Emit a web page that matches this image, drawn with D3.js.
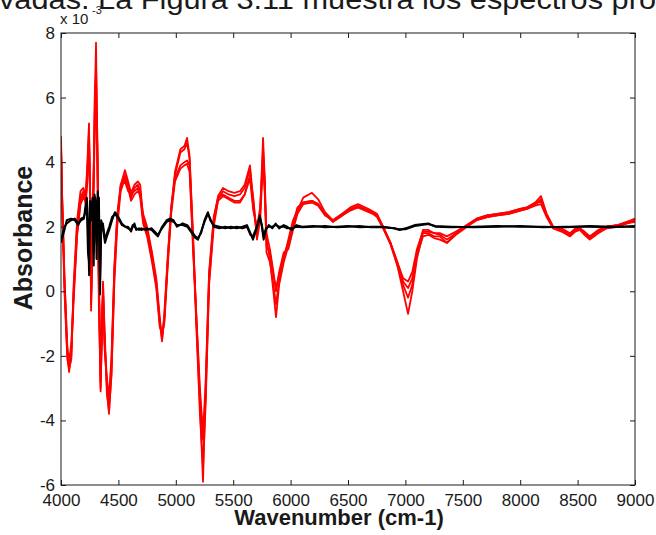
<!DOCTYPE html>
<html>
<head>
<meta charset="utf-8">
<script src="https://cdn.jsdelivr.net/npm/d3@7"></script>
<style>
body { margin: 0; background: #fff; }
text { font-family: "Liberation Sans", Arial, sans-serif; fill: #1a1a1a; }
</style>
</head>
<body>
<div id="chart"></div>
<script>

// wavenumber grid shared by the red spectra
wavenumbers = [
  4000,4010,4030,4055,4070,4090,4110,4140,4170,4195,
  4215,4230,4244,4255,4262,4275,4295,4305,4318,4330,
  4345,4358,4366,4380,4400,4418,4440,4465,4490,4520,
  4557,4585,4610,4640,4670,4690,4715,4750,4793,4830,
  4860,4880,4900,4930,4960,4993,5040,5075,5098,5120,
  5150,5180,5210,5237,5260,5290,5330,5368,5411,5460,
  5510,5559,5600,5646,5675,5707,5735,5760,5775,5790,
  5820,5850,5873,5900,5940,5980,6021,6060,6110,6186,
  6240,6300,6369,6450,6520,6587,6680,6753,6805,6870,
  6930,6980,7023,7060,7100,7153,7200,7250,7300,7362,
  7440,7537,7620,7711,7800,7900,8000,8059,8130,8181,
  8230,8286,8360,8434,8480,8519,8560,8606,8680,8754,
  8850,8930,9000
]

red_a = [
  4.8,3.0,0.5,-1.8,-2.5,-2.0,0.0,2.0,2.9,3.1,
  2.9,4.0,5.2,2.5,-0.6,1.5,6.0,7.7,4.0,0.0,
  -3.1,-1.0,0.3,-1.5,-3.0,-3.8,-2.5,0.5,2.2,3.3,
  3.75,3.4,3.05,3.3,3.4,3.3,2.3,1.9,1.1,0.3,
  -0.9,-1.55,-0.8,1.0,2.6,3.7,4.4,4.5,4.75,4.2,
  1.8,-1.0,-3.5,-5.9,-3.0,0.5,2.2,2.95,3.2,3.1,
  3.05,3.1,3.3,3.9,2.8,1.7,2.5,4.75,3.5,1.6,
  1.0,0.0,-0.8,0.2,0.9,1.4,2.0,2.5,2.9,3.05,
  2.85,2.45,2.2,2.4,2.6,2.7,2.55,2.4,2.0,1.5,
  0.8,0.0,-0.7,0.0,1.0,1.8,1.8,1.7,1.7,1.5,
  1.8,2.05,2.25,2.35,2.4,2.45,2.55,2.6,2.75,2.95,
  2.4,2.0,1.9,1.75,1.9,1.95,1.8,1.65,1.85,2.0,
  2.05,2.15,2.2
]

red_b = [
  4.6,2.8,0.2,-2.0,-2.3,-1.8,-0.3,1.7,2.7,2.9,
  2.8,3.6,4.8,2.8,-0.2,2.0,5.6,7.0,4.5,0.5,
  -2.8,-0.6,0.0,-1.8,-2.8,-3.5,-2.2,0.7,2.3,3.2,
  3.6,3.3,2.9,3.2,3.3,3.1,2.2,1.8,1.0,0.2,
  -1.0,-1.4,-0.9,0.9,2.5,3.6,4.3,4.4,4.6,4.1,
  1.6,-0.9,-3.2,-4.6,-3.3,0.3,2.1,2.85,3.1,3.0,
  2.95,3.0,3.2,3.8,2.6,1.8,2.4,4.4,3.2,1.4,
  1.2,0.5,0.1,0.5,1.1,1.5,2.1,2.6,2.75,2.8,
  2.7,2.4,2.15,2.35,2.55,2.6,2.5,2.35,2.0,1.5,
  0.9,0.3,0.1,0.4,1.2,1.9,1.9,1.8,1.8,1.7,
  1.85,2.05,2.2,2.3,2.35,2.4,2.5,2.55,2.7,2.8,
  2.35,2.0,1.95,1.8,1.95,1.95,1.85,1.7,1.9,2.0,
  2.05,2.1,2.15
]

red_c = [
  4.5,2.6,0.0,-2.1,-2.4,-2.1,0.2,2.2,3.1,3.2,
  3.0,3.8,5.0,2.2,-0.4,1.2,6.2,6.6,3.5,-0.5,
  -3.0,-1.2,0.2,-1.2,-3.2,-3.7,-2.6,0.3,2.0,3.1,
  3.5,3.2,2.8,3.0,3.1,3.0,2.4,2.0,1.2,0.4,
  -0.8,-1.5,-0.7,1.1,2.6,3.5,3.9,4.0,4.05,3.9,
  1.5,-1.2,-3.8,-5.4,-3.5,0.2,2.0,2.8,2.95,2.85,
  2.75,2.75,3.0,3.6,2.9,1.6,2.2,4.0,3.0,1.8,
  1.3,0.6,0.0,0.6,1.2,1.3,1.9,2.4,2.7,2.75,
  2.65,2.35,2.2,2.4,2.55,2.65,2.5,2.3,1.95,1.45,
  0.8,0.2,-0.2,0.2,1.1,1.7,1.75,1.65,1.6,1.5,
  1.75,2.0,2.2,2.3,2.35,2.4,2.5,2.55,2.65,2.7,
  2.3,1.95,1.85,1.7,1.85,1.9,1.75,1.6,1.8,1.95,
  2.0,2.1,2.2
]

red_d = [
  4.3,2.9,0.4,-1.7,-2.2,-1.6,-0.1,1.8,2.8,3.0,
  2.7,3.4,4.5,3.0,0.1,1.8,5.0,6.0,4.2,0.3,
  -2.6,-0.8,-0.2,-1.6,-2.7,-3.3,-2.0,0.8,2.4,3.3,
  3.4,3.1,3.0,3.1,3.2,2.9,2.1,1.7,0.9,0.1,
  -1.1,-1.3,-1.0,0.8,2.4,3.4,3.8,3.9,3.95,3.7,
  1.3,-0.8,-3.0,-4.4,-2.8,0.6,2.3,2.9,3.0,2.9,
  2.8,2.8,3.0,3.5,2.5,2.0,2.6,4.2,3.4,1.2,
  0.9,0.2,-0.4,0.3,1.0,1.6,2.2,2.5,2.75,2.8,
  2.7,2.4,2.15,2.35,2.5,2.6,2.45,2.35,2.0,1.5,
  0.9,0.4,0.3,0.6,1.3,1.85,1.85,1.8,1.75,1.6,
  1.8,2.05,2.25,2.35,2.4,2.45,2.55,2.6,2.7,2.85,
  2.4,2.0,1.9,1.75,1.9,1.95,1.8,1.7,1.85,2.0,
  2.05,2.15,2.25
]

// wavenumber grid for the black spectra
black_wavenumbers = [
  4000,4015,4030,4050,4087,4120,4150,4175,4200,4215,
  4225,4235,4245,4252,4262,4275,4285,4292,4300,4310,
  4320,4330,4340,4350,4365,4383,4400,4420,4445,4470,
  4500,4530,4560,4584,4610,4625,4640,4655,4680,4700,
  4740,4790,4830,4845,4880,4920,4950,4980,5010,5060,
  5100,5140,5170,5193,5220,5250,5280,5300,5330,5380,
  5430,5480,5530,5580,5620,5650,5672,5700,5733,5750,
  5765,5785,5810,5840,5870,5900,5940,5970,6010,6050,
  6100,6200,6300,6400,6500,6600,6700,6800,6900,6950,
  7000,7080,7200,7260,7400,7600,7800,8000,8200,8400,
  8600,8800,9000
]

black_a = [
  1.5,1.7,1.9,2.2,2.25,2.2,2.05,2.25,2.3,2.5,
  2.9,2.0,0.5,2.8,2.5,2.9,1.2,3.0,2.8,1.5,
  3.1,2.6,-0.1,2.2,2.0,1.5,1.7,1.9,2.2,2.45,
  2.3,2.1,2.0,2.0,1.85,2.0,2.1,1.9,1.95,1.9,
  1.95,1.9,1.75,1.7,2.0,2.2,2.25,2.2,2.0,2.1,
  2.05,1.85,1.7,1.65,1.8,2.2,2.45,2.2,2.05,2.0,
  1.95,2.0,1.95,2.0,2.05,1.8,1.6,1.9,2.35,2.0,
  1.6,1.9,2.05,1.95,2.1,1.95,2.05,2.0,1.9,2.05,
  2.0,2.02,1.98,2.0,2.02,1.98,2.0,2.0,1.95,1.9,
  1.95,2.05,2.1,2.0,1.98,2.0,2.02,2.0,2.0,1.98,
  2.02,2.0,2.0
]

black_b = [
  1.6,1.8,2.0,2.1,2.2,2.25,2.1,2.2,2.25,2.7,
  2.6,1.2,0.9,2.6,2.2,2.7,0.8,2.7,2.9,1.0,
  2.8,2.9,0.4,1.8,2.1,1.6,1.8,2.0,2.3,2.4,
  2.25,2.05,2.0,1.95,1.9,2.05,2.0,1.95,1.9,1.95,
  1.9,1.95,1.8,1.75,1.95,2.15,2.2,2.15,2.05,2.05,
  2.0,1.8,1.65,1.6,1.85,2.15,2.4,2.25,2.0,1.95,
  2.0,1.95,2.0,1.95,2.0,1.75,1.7,1.95,2.25,2.05,
  1.7,1.95,2.0,2.0,2.05,2.0,2.0,1.95,1.95,2.0,
  1.98,2.0,2.02,1.98,2.0,2.02,1.98,1.98,1.95,1.92,
  1.92,2.02,2.08,2.02,2.0,1.98,2.0,2.02,1.98,2.0,
  2.0,1.98,2.02
]

x_ticks = [4000, 4500, 5000, 5500, 6000, 6500, 7000, 7500, 8000, 8500, 9000]
y_ticks = [-6, -4, -2, 0, 2, 4, 6, 8]

red_series   = [red_a, red_b, red_c, red_d]
black_series = [black_a, black_b]

margin = {top: 33, right: 21, bottom: 50, left: 61},
width  = 656 - margin.left - margin.right,
height = 535 - margin.top - margin.bottom;

var svg_root = d3.select("#chart").append("svg")
  .attr("width", 656)
  .attr("height", 535)

// cut-off line of document text above the figure
svg_root.append("text")
  .attr("x", -1).attr("y", 9)
  .attr("font-size", 28)
  .attr("textLength", 657)
  .attr("lengthAdjust", "spacingAndGlyphs")
  .text("vadas. La Figura 3.11 muestra los espectros pro")

svg = svg_root.append("g").attr("transform", "translate(" + margin.left + "," + margin.top + ")");

var x = d3.scaleLinear().domain([4000, 9000]).range([0, width]);
var y = d3.scaleLinear().domain([-6, 8]).range([height, 0]);

svg.append("defs").append("clipPath").attr("id", "clip")
  .append("rect").attr("width", width).attr("height", height)

function make_line(xs) {
  return d3.line()
    .x(function(d, i) { return x(xs[i]); })
    .y(function(d) { return y(d); })
}

var plot = svg.append("g").attr("clip-path", "url(#clip)")

plot.selectAll(".red").data(red_series).enter()
  .append("path")
  .attr("class", "red")
  .attr("fill", "none")
  .attr("stroke", "#ff0000")
  .attr("stroke-width", 1.8)
  .attr("stroke-linejoin", "round")
  .attr("d", make_line(wavenumbers))

plot.selectAll(".black").data(black_series).enter()
  .append("path")
  .attr("class", "black")
  .attr("fill", "none")
  .attr("stroke", "#000")
  .attr("stroke-width", 2)
  .attr("stroke-linejoin", "round")
  .attr("d", make_line(black_wavenumbers))

// axes, matlab style: ticks pointing inwards on all four sides
var fmt = function(d) { return String(d); }

var gx = svg.append("g").attr("transform", "translate(0," + height + ")")
  .call(d3.axisBottom(x).tickValues(x_ticks).tickSize(-5).tickPadding(9).tickFormat(fmt));
var gy = svg.append("g")
  .call(d3.axisLeft(y).tickValues(y_ticks).tickSize(-5).tickPadding(6).tickFormat(fmt));
var gt = svg.append("g")
  .call(d3.axisTop(x).tickValues(x_ticks).tickSize(-5).tickFormat(""));
var gr = svg.append("g").attr("transform", "translate(" + width + ",0)")
  .call(d3.axisRight(y).tickValues(y_ticks).tickSize(-5).tickFormat(""));

svg.selectAll(".domain").remove()
svg.selectAll(".tick line").attr("stroke", "#1a1a1a")
svg.selectAll(".tick text").attr("font-size", 17).attr("font-family", "Liberation Sans, Arial, sans-serif").attr("fill", "#1a1a1a")

svg.append("rect")
  .attr("width", width).attr("height", height)
  .attr("fill", "none").attr("stroke", "#1a1a1a").attr("stroke-width", 1)

// exponent label
svg_root.append("text").attr("x", 60).attr("y", 24).attr("font-size", 15).text("x 10")
svg_root.append("text").attr("x", 92).attr("y", 14).attr("font-size", 11).text("-3")

svg_root.append("text")
  .attr("x", 339).attr("y", 525)
  .attr("text-anchor", "middle")
  .attr("font-size", 22).attr("font-weight", "bold")
  .text("Wavenumber (cm-1)")

svg_root.append("text")
  .attr("transform", "translate(32,238) rotate(-90)")
  .attr("text-anchor", "middle")
  .attr("font-size", 25).attr("font-weight", "bold")
  .text("Absorbance")

</script>
</body>
</html>
